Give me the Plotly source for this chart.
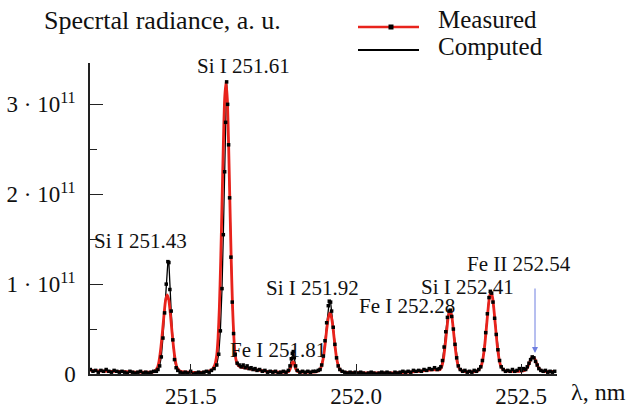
import plotly.graph_objects as go

SCALE = 1e11  # radiance values below are given in units of 1e11

# ---- Computed spectrum (red) ----
computed_nm = [
    251.195, 251.22, 251.25, 251.28, 251.31, 251.34, 251.37, 251.388,
    251.398, 251.403, 251.408, 251.413, 251.418, 251.423, 251.428, 251.433, 251.438, 251.443,
    251.448, 251.453, 251.458, 251.468, 251.49, 251.52, 251.551, 251.564, 251.572, 251.578,
    251.582, 251.586, 251.590, 251.594, 251.598, 251.602, 251.606, 251.610, 251.614, 251.618,
    251.622, 251.626, 251.630, 251.634, 251.640, 251.648, 251.66, 251.675, 251.69, 251.71,
    251.73, 251.75, 251.775, 251.79, 251.797, 251.801, 251.805, 251.809, 251.813, 251.817,
    251.822, 251.835, 251.86, 251.88, 251.891, 251.896, 251.901, 251.906, 251.911, 251.916,
    251.921, 251.926, 251.931, 251.936, 251.941, 251.946, 251.951, 251.961, 251.98, 252.01,
    252.04, 252.07, 252.10, 252.13, 252.16, 252.19, 252.215, 252.235, 252.245, 252.255,
    252.26, 252.265, 252.27, 252.275, 252.28, 252.285, 252.29, 252.295, 252.30, 252.305,
    252.31, 252.315, 252.325, 252.34, 252.355, 252.369, 252.379, 252.384, 252.389, 252.394,
    252.399, 252.404, 252.409, 252.414, 252.419, 252.424, 252.429, 252.434, 252.439, 252.449,
    252.465, 252.48, 252.495, 252.511, 252.516, 252.521, 252.526, 252.531, 252.536, 252.541,
    252.546, 252.551, 252.556, 252.561, 252.571, 252.585, 252.60,
]
computed_val = [
    0.04, 0.035, 0.03, 0.03, 0.025, 0.02, 0.02, 0.025,
    0.07, 0.14, 0.27, 0.45, 0.65, 0.82, 0.88, 0.82, 0.65, 0.45,
    0.27, 0.14, 0.07, 0.03, 0.02, 0.015, 0.03, 0.05, 0.10, 0.21,
    0.40, 0.74, 1.25, 1.89, 2.55, 3.06, 3.25, 3.06, 2.55, 1.89,
    1.25, 0.74, 0.40, 0.21, 0.11, 0.08, 0.07, 0.06, 0.05, 0.04,
    0.03, 0.025, 0.02, 0.02, 0.03, 0.06, 0.11, 0.14, 0.11, 0.06,
    0.03, 0.02, 0.02, 0.025, 0.05, 0.095, 0.18, 0.32, 0.49, 0.625,
    0.68, 0.625, 0.49, 0.32, 0.18, 0.095, 0.05, 0.025, 0.015, 0.015,
    0.012, 0.012, 0.012, 0.015, 0.02, 0.03, 0.04, 0.05, 0.045, 0.05,
    0.085, 0.17, 0.315, 0.49, 0.65, 0.71, 0.65, 0.49, 0.315, 0.17,
    0.085, 0.05, 0.03, 0.025, 0.025, 0.036, 0.084, 0.157, 0.285, 0.47,
    0.675, 0.845, 0.91, 0.845, 0.675, 0.47, 0.285, 0.157, 0.084, 0.04,
    0.03, 0.03, 0.03, 0.04, 0.055, 0.085, 0.13, 0.175, 0.19, 0.175,
    0.13, 0.085, 0.055, 0.04, 0.03, 0.025, 0.03,
]

# ---- Measured spectrum (black, with points) ----
measured_nm = [
    251.195, 251.203, 251.211, 251.219, 251.227, 251.235, 251.243, 251.251, 251.259, 251.267,
    251.275, 251.283, 251.291, 251.299, 251.307, 251.315, 251.323, 251.331, 251.339, 251.347,
    251.355, 251.363, 251.371, 251.379, 251.387, 251.395, 251.400, 251.405, 251.410, 251.415,
    251.420, 251.425, 251.430, 251.433, 251.436, 251.440, 251.445, 251.450, 251.455, 251.460,
    251.467, 251.475, 251.483, 251.491, 251.499, 251.507, 251.515, 251.523, 251.531, 251.539,
    251.547, 251.555, 251.562, 251.570, 251.578, 251.584, 251.589, 251.594, 251.598, 251.602,
    251.605, 251.608, 251.611, 251.614, 251.617, 251.621, 251.625, 251.629, 251.634, 251.640,
    251.646, 251.652, 251.658, 251.664, 251.670, 251.676, 251.682, 251.688, 251.694, 251.700,
    251.708, 251.716, 251.724, 251.732, 251.740, 251.748, 251.756, 251.764, 251.772, 251.780,
    251.788, 251.795, 251.800, 251.804, 251.807, 251.810, 251.813, 251.817, 251.822, 251.830,
    251.838, 251.846, 251.854, 251.862, 251.870, 251.878, 251.886, 251.891, 251.896, 251.901,
    251.906, 251.911, 251.916, 251.919, 251.923, 251.926, 251.931, 251.936, 251.941, 251.946,
    251.951, 251.958, 251.966, 251.974, 251.982, 251.990, 251.998, 252.006, 252.014, 252.022,
    252.030, 252.038, 252.046, 252.054, 252.062, 252.070, 252.078, 252.086, 252.094, 252.102,
    252.110, 252.118, 252.126, 252.134, 252.142, 252.150, 252.158, 252.166, 252.174, 252.182,
    252.190, 252.198, 252.206, 252.214, 252.222, 252.230, 252.238, 252.246, 252.252, 252.257,
    252.262, 252.267, 252.272, 252.277, 252.282, 252.286, 252.290, 252.295, 252.300, 252.305,
    252.310, 252.316, 252.323, 252.330, 252.337, 252.344, 252.351, 252.358, 252.365, 252.372,
    252.378, 252.383, 252.388, 252.393, 252.398, 252.403, 252.407, 252.411, 252.415, 252.420,
    252.425, 252.430, 252.435, 252.440, 252.446, 252.453, 252.460, 252.467, 252.474, 252.481,
    252.488, 252.495, 252.502, 252.508, 252.514, 252.519, 252.524, 252.529, 252.534, 252.539,
    252.544, 252.549, 252.554, 252.560, 252.567, 252.574, 252.581, 252.588, 252.595, 252.602,
]
measured_val = [
    0.05, 0.03, 0.04, 0.02, 0.04, 0.03, 0.05, 0.03, 0.02, 0.04,
    0.03, 0.02, 0.03, 0.02, 0.01, 0.03, 0.02, 0.01, 0.02, 0.03,
    0.01, 0.02, 0.01, 0.02, 0.03, 0.03, 0.05, 0.09, 0.19, 0.40,
    0.68, 1.00, 1.25, 1.24, 0.94, 0.70, 0.38, 0.16, 0.07, 0.04,
    0.02, 0.01, 0.02, 0.01, 0.03, 0.00, 0.01, 0.02, 0.01, 0.02,
    0.03, 0.02, 0.04, 0.06, 0.10, 0.22, 0.48, 0.95, 1.55, 2.25,
    2.80, 3.25, 3.00, 2.55, 1.96, 1.30, 0.80, 0.45, 0.22, 0.12,
    0.10, 0.08, 0.10, 0.07, 0.09, 0.06, 0.07, 0.05, 0.06, 0.04,
    0.05, 0.03, 0.04, 0.02, 0.03, 0.02, 0.03, 0.01, 0.02, 0.03,
    0.02, 0.04, 0.09, 0.17, 0.23, 0.25, 0.18, 0.09, 0.04, 0.02,
    0.03, 0.02, 0.03, 0.02, 0.03, 0.03, 0.04, 0.05, 0.10, 0.20,
    0.37, 0.57, 0.76, 0.81, 0.80, 0.70, 0.52, 0.33, 0.18, 0.09,
    0.05, 0.03, 0.02, 0.01, 0.02, 0.01, 0.02, 0.01, 0.02, 0.01,
    0.00, 0.01, 0.02, 0.01, 0.00, 0.01, 0.02, 0.01, 0.02, 0.01,
    0.00, 0.02, 0.01, 0.02, 0.03, 0.02, 0.03, 0.02, 0.04, 0.03,
    0.04, 0.03, 0.05, 0.04, 0.06, 0.05, 0.07, 0.05, 0.06, 0.08,
    0.15, 0.30, 0.47, 0.63, 0.70, 0.71, 0.64, 0.50, 0.33, 0.18,
    0.09, 0.05, 0.03, 0.04, 0.02, 0.03, 0.02, 0.04, 0.03, 0.05,
    0.08, 0.15, 0.27, 0.46, 0.67, 0.85, 0.92, 0.90, 0.80, 0.62,
    0.44, 0.27, 0.15, 0.08, 0.05, 0.03, 0.04, 0.03, 0.05, 0.03,
    0.04, 0.06, 0.04, 0.06, 0.05, 0.08, 0.12, 0.16, 0.19, 0.18,
    0.14, 0.10, 0.06, 0.04, 0.03, 0.04, 0.02, 0.03, 0.02, 0.03,
]

x_tick_vals = [251.5, 252.0, 252.5]
x_tick_text = ["251.5", "252.0", "252.5"]
y_tick_vals = [0, 1, 2, 3]
y_tick_text = ["0", "1 · 10<sup>11</sup>", "2 · 10<sup>11</sup>", "3 · 10<sup>11</sup>"]

line_labels = ["Si I 251.43", "Si I 251.61", "Fe I 251.81", "Si I 251.92",
               "Fe I 252.28", "Si I 252.41", "Fe II 252.54"]

FONT = "Liberation Serif, Times New Roman, serif"
RED = "#e8231c"

# plot-area pixel geometry
W, H = 628, 408
PL, PR, PT, PB = 90, 557, 63, 374


def fx(px):
    return (px - PL) / (PR - PL)


def fy(py):
    return (PB - py) / (PB - PT)


my = [v * SCALE for v in measured_val]
cy = [v * SCALE for v in computed_val]

fig = go.Figure()
fig.add_trace(go.Scatter(x=measured_nm, y=my, mode="lines",
                         line=dict(color="black", width=1.3), showlegend=False))
fig.add_trace(go.Scatter(x=computed_nm, y=cy, mode="lines",
                         line=dict(color=RED, width=2.8, shape="spline", smoothing=0.6),
                         showlegend=False))
fig.add_trace(go.Scatter(x=measured_nm, y=my, mode="markers",
                         marker=dict(color="black", size=3.5, symbol="square"),
                         showlegend=False))

# peak labels (pixel centres)
label_pos = [(140, 241), (243, 66), (278, 350), (312, 288), (407, 306), (467, 287), (519, 264)]
for txt, (px, py) in zip(line_labels, label_pos):
    fig.add_annotation(x=fx(px), y=fy(py), xref="paper", yref="paper", text=txt,
                       showarrow=False, xanchor="center", yanchor="middle",
                       font=dict(family=FONT, size=21, color="#111"))

# blue arrow pointing to Fe II 252.54
fig.add_annotation(x=fx(535), y=fy(353), xref="paper", yref="paper", text="",
                   showarrow=True, ax=0, ay=-66, arrowhead=2, arrowsize=1.2,
                   arrowwidth=1, arrowcolor="#6f7fe0")

# y-axis title & x-axis unit
fig.add_annotation(x=fx(42), y=fy(20), xref="paper", yref="paper",
                   text="Specrtal radiance, a. u.", showarrow=False,
                   xanchor="left", yanchor="middle",
                   font=dict(family=FONT, size=26, color="#111"))
fig.add_annotation(x=fx(569), y=fy(392), xref="paper", yref="paper",
                   text="λ, nm", showarrow=False, xanchor="left", yanchor="middle",
                   font=dict(family=FONT, size=24, color="#111"))

# legend drawn by hand
fig.add_shape(type="line", xref="paper", yref="paper", x0=fx(358), x1=fx(419),
              y0=fy(27), y1=fy(27), line=dict(color=RED, width=2.5))
fig.add_shape(type="rect", xref="paper", yref="paper", x0=fx(388.5), x1=fx(393.5),
              y0=fy(24.5), y1=fy(29.5), line=dict(width=0), fillcolor="black")
fig.add_shape(type="line", xref="paper", yref="paper", x0=fx(358), x1=fx(419),
              y0=fy(50), y1=fy(50), line=dict(color="black", width=2))
fig.add_annotation(x=fx(436), y=fy(19), xref="paper", yref="paper", text="Measured",
                   showarrow=False, xanchor="left", yanchor="middle",
                   font=dict(family=FONT, size=25, color="#111"))
fig.add_annotation(x=fx(436), y=fy(46), xref="paper", yref="paper", text="Computed",
                   showarrow=False, xanchor="left", yanchor="middle",
                   font=dict(family=FONT, size=25, color="#111"))

fig.update_layout(
    width=W, height=H, autosize=False,
    margin=dict(l=PL, r=W - PR, t=PT, b=H - PB, pad=0),
    paper_bgcolor="white", plot_bgcolor="white",
    font=dict(family=FONT, size=23, color="#111"),
    showlegend=False,
)
fig.update_xaxes(range=[251.194, 252.609], tickvals=x_tick_vals, ticktext=x_tick_text,
                 automargin=False,
                 showline=True, linecolor="#222", linewidth=1.5, mirror=False,
                 ticks="inside", ticklen=10, tickwidth=1.3, tickcolor="#222",
                 showgrid=False, zeroline=False, ticklabelstandoff=1,
                 tickfont=dict(family=FONT, size=23, color="#111"))
fig.update_yaxes(range=[0, 3.46e11], tickvals=[v * SCALE for v in y_tick_vals],
                 ticktext=y_tick_text, automargin=False,
                 showline=True, linecolor="#222", linewidth=1.5,
                 ticks="inside", ticklen=13, tickwidth=1.3, tickcolor="#222",
                 minor=dict(tickvals=[0.5e11, 1.5e11, 2.5e11], ticks="inside",
                            ticklen=7, tickwidth=1.3, tickcolor="#222"),
                 showgrid=False, zeroline=False, ticklabelstandoff=8,
                 tickfont=dict(family=FONT, size=23, color="#111"))

fig.write_html("out.html", config={"displayModeBar": False},
               post_script="document.body.style.margin='0';")
